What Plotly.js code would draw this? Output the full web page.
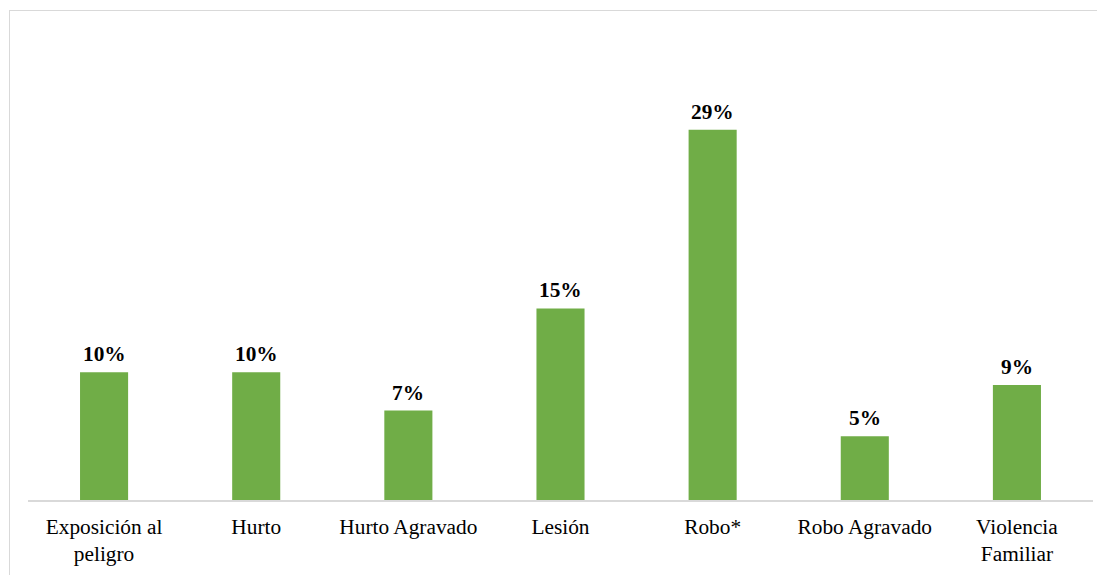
<!DOCTYPE html>
<html>
<head>
<meta charset="utf-8">
<script src="https://cdn.plot.ly/plotly-3.0.1.min.js"></script>
<style>
  html, body { margin: 0; padding: 0; background: #ffffff; }
  #frame { position: absolute; left: 9px; top: 10px; width: 1100px; height: 580px; border: 1px solid #d9d9d9; box-sizing: border-box; }
  #chart { position: absolute; left: 0; top: 0; width: 1097px; height: 575px; }
</style>
</head>
<body>
<div id="frame"></div>
<div id="chart"></div>
<script>
const categories = ["Exposición al<br>peligro", "Hurto", "Hurto Agravado", "Lesión", "Robo*", "Robo Agravado", "Violencia<br>Familiar"];
const values = [10, 10, 7, 15, 29, 5, 9];
const valueLabels = values.map(v => v + "%");

const FONT = "'Liberation Serif', 'Times New Roman', serif";
const FS = 21.33;

const trace = {
  type: "bar",
  x: categories,
  y: values,
  marker: { color: "#70AD47" },
  hoverinfo: "none"
};

const annotations = categories.map((c, i) => ({
  x: c,
  y: values[i],
  xref: "x",
  yref: "y",
  text: "<b>" + valueLabels[i] + "</b>",
  showarrow: false,
  yanchor: "bottom",
  yshift: 4,
  font: { family: FONT, size: FS, color: "#000000" }
}));

const layout = {
  width: 1097,
  height: 575,
  margin: { l: 28, r: 4, t: 53, b: 75 },
  paper_bgcolor: "rgba(0,0,0,0)",
  plot_bgcolor: "rgba(0,0,0,0)",
  bargap: 0.684,
  showlegend: false,
  font: { family: FONT, size: FS, color: "#000000" },
  annotations: annotations,
  xaxis: {
    showline: true,
    linecolor: "#d9d9d9",
    linewidth: 2,
    ticks: "",
    ticklabelstandoff: 6,
    showgrid: false,
    zeroline: false,
    tickfont: { family: FONT, size: FS, color: "#000000" },
    automargin: false
  },
  yaxis: {
    range: [0, 35],
    visible: false,
    showgrid: false,
    zeroline: false
  }
};

Plotly.newPlot("chart", [trace], layout, { staticPlot: true, displayModeBar: false });
</script>
</body>
</html>
